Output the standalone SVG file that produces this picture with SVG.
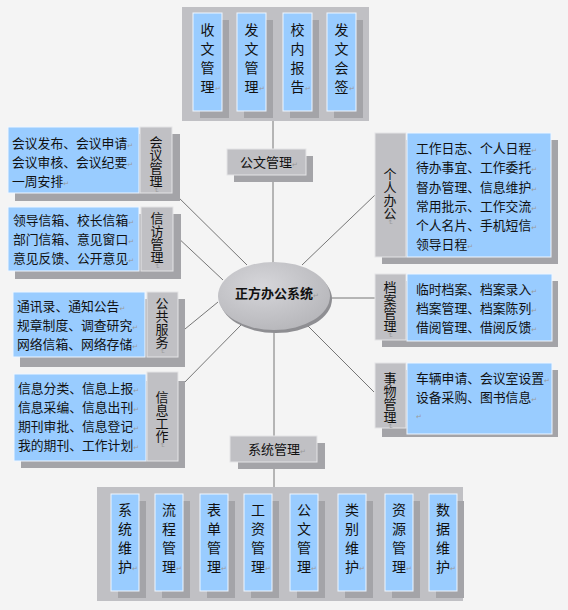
<svg xmlns="http://www.w3.org/2000/svg" width="568" height="610" viewBox="0 0 568 610">
<defs>
<style>
.bg{fill:#f4f4f4}
.panel{fill:#c0c0c4}
.shd{fill:#a4a4a8}
.blue{fill:#99ccff;stroke:#eef6ff;stroke-width:1}
.lbl{fill:#c0c0c4;stroke:#e4e4e6;stroke-width:1}
.t{font-family:"Noto Sans CJK SC","Noto Sans CJK JP",sans-serif;font-size:12.8px;fill:#111}
.v{font-family:"Noto Sans CJK SC","Noto Sans CJK JP",sans-serif;font-size:14px;fill:#111;text-anchor:middle}
.vl{font-family:"Noto Sans CJK SC","Noto Sans CJK JP",sans-serif;font-size:13px;fill:#111;writing-mode:vertical-rl}
.rm{font-family:"DejaVu Sans",sans-serif;font-size:7px;fill:#9a9a9a}
.conn line{stroke:#555;stroke-width:0.8}
</style>
<radialGradient id="eg" cx="40%" cy="35%" r="70%">
<stop offset="0" stop-color="#d6d6da"/>
<stop offset="1" stop-color="#b6b6ba"/>
</radialGradient>
</defs>
<rect class="bg" x="0" y="0" width="568" height="610"/>

<g id="connectors" class="conn">
<line x1="273" y1="121" x2="273" y2="149"/>
<line x1="273" y1="175" x2="273" y2="263"/>
<line x1="173" y1="192" x2="247" y2="265"/>
<line x1="175" y1="235" x2="223" y2="280"/>
<line x1="185" y1="329" x2="218" y2="302"/>
<line x1="180" y1="387" x2="242" y2="324"/>
<line x1="302" y1="265" x2="375" y2="195"/>
<line x1="330" y1="298" x2="375" y2="298"/>
<line x1="307" y1="325" x2="374" y2="392"/>
<line x1="274" y1="330" x2="274" y2="436"/>
<line x1="274" y1="462" x2="274" y2="487"/>
</g>

<g id="top-panel">
<rect class="panel" x="182" y="7" width="187" height="114"/>
<rect class="shd" x="200" y="20" width="29" height="98"/>
<rect class="shd" x="244" y="20" width="29" height="98"/>
<rect class="shd" x="290" y="20" width="29" height="98"/>
<rect class="shd" x="334" y="20" width="29" height="98"/>
<rect class="blue" x="193" y="13" width="29" height="98"/>
<rect class="blue" x="237" y="13" width="29" height="98"/>
<rect class="blue" x="283" y="13" width="29" height="98"/>
<rect class="blue" x="327" y="13" width="29" height="98"/>
<text class="v"><tspan x="207.5" y="35">收</tspan><tspan x="207.5" y="54">文</tspan><tspan x="207.5" y="73">管</tspan><tspan x="207.5" y="92">理</tspan><tspan class="rm" x="218" y="91">↵</tspan></text>
<text class="v"><tspan x="251.5" y="35">发</tspan><tspan x="251.5" y="54">文</tspan><tspan x="251.5" y="73">管</tspan><tspan x="251.5" y="92">理</tspan><tspan class="rm" x="262" y="91">↵</tspan></text>
<text class="v"><tspan x="297.5" y="35">校</tspan><tspan x="297.5" y="54">内</tspan><tspan x="297.5" y="73">报</tspan><tspan x="297.5" y="92">告</tspan><tspan class="rm" x="308" y="91">↵</tspan></text>
<text class="v"><tspan x="341.5" y="35">发</tspan><tspan x="341.5" y="54">文</tspan><tspan x="341.5" y="73">会</tspan><tspan x="341.5" y="92">签</tspan><tspan class="rm" x="352" y="91">↵</tspan></text>
</g>

<g id="gongwen">
<rect class="shd" x="234" y="156" width="79" height="26"/>
<rect class="lbl" x="227" y="149" width="79" height="26"/>
<text class="t" x="240" y="167" style="font-size:13px">公文管理<tspan class="rm">↵</tspan></text>
</g>

<g id="center">
<ellipse cx="276" cy="299" rx="56" ry="34" fill="#8e8e92"/>
<ellipse cx="274" cy="296" rx="56" ry="34" fill="url(#eg)"/>
<text class="t" x="235" y="298" style="font-size:13px;font-weight:bold">正方办公系统<tspan class="rm" style="font-weight:normal">↵</tspan></text>
</g>

<g id="huiyi">
<rect class="shd" x="15" y="134" width="165" height="67"/>
<rect class="blue" x="8" y="127" width="131" height="66"/>
<rect class="lbl" x="140" y="127" width="32" height="66"/>
<text class="t" x="12" y="148">会议发布、会议申请<tspan class="rm">↵</tspan></text>
<text class="t" x="12" y="167">会议审核、会议纪要<tspan class="rm">↵</tspan></text>
<text class="t" x="12" y="186">一周安排<tspan class="rm">↵</tspan></text>
<text class="vl" x="156" y="135.5">会议管理<tspan class="rm">↵</tspan></text>
</g>

<g id="xinfang">
<rect class="shd" x="15" y="214" width="166" height="65"/>
<rect class="blue" x="8" y="207" width="131" height="64"/>
<rect class="lbl" x="141" y="207" width="32" height="64"/>
<text class="t" x="13" y="225">领导信箱、校长信箱<tspan class="rm">↵</tspan></text>
<text class="t" x="13" y="244">部门信箱、意见窗口<tspan class="rm">↵</tspan></text>
<text class="t" x="13" y="263">意见反馈、公开意见<tspan class="rm">↵</tspan></text>
<text class="vl" x="157" y="211.5">信访管理<tspan class="rm">↵</tspan></text>
</g>

<g id="gonggong">
<rect class="shd" x="20" y="299" width="165" height="68"/>
<rect class="blue" x="13" y="292" width="132" height="65"/>
<rect class="lbl" x="147" y="292" width="31" height="65"/>
<text class="t" x="17" y="311">通讯录、通知公告<tspan class="rm">↵</tspan></text>
<text class="t" x="17" y="330">规章制度、调查研究<tspan class="rm">↵</tspan></text>
<text class="t" x="17" y="349">网络信箱、网络存储<tspan class="rm">↵</tspan></text>
<text class="vl" x="162" y="296.5">公共服务<tspan class="rm">↵</tspan></text>
</g>

<g id="xinxi">
<rect class="shd" x="21" y="381" width="164" height="87"/>
<rect class="blue" x="14" y="374" width="132" height="87"/>
<rect class="lbl" x="147" y="372" width="31" height="89"/>
<text class="t" x="18" y="393">信息分类、信息上报<tspan class="rm">↵</tspan></text>
<text class="t" x="18" y="412">信息采编、信息出刊<tspan class="rm">↵</tspan></text>
<text class="t" x="18" y="431">期刊审批、信息登记<tspan class="rm">↵</tspan></text>
<text class="t" x="18" y="450">我的期刊、工作计划<tspan class="rm">↵</tspan></text>
<text class="vl" x="162" y="390.5">信息工作<tspan class="rm">↵</tspan></text>
</g>

<g id="geren">
<rect class="shd" x="382" y="140" width="176" height="124"/>
<rect class="lbl" x="375" y="133" width="31" height="124"/>
<rect class="blue" x="407" y="133" width="144" height="124"/>
<text class="t" x="416" y="153">工作日志、个人日程<tspan class="rm">↵</tspan></text>
<text class="t" x="416" y="172">待办事宜、工作委托<tspan class="rm">↵</tspan></text>
<text class="t" x="416" y="192">督办管理、信息维护<tspan class="rm">↵</tspan></text>
<text class="t" x="416" y="211">常用批示、工作交流<tspan class="rm">↵</tspan></text>
<text class="t" x="416" y="230">个人名片、手机短信<tspan class="rm">↵</tspan></text>
<text class="t" x="416" y="249">领导日程<tspan class="rm">↵</tspan></text>
<text class="vl" x="390" y="167.5">个人办公<tspan class="rm">↵</tspan></text>
</g>

<g id="dangan">
<rect class="shd" x="382" y="281" width="176" height="66"/>
<rect class="lbl" x="375" y="274" width="31" height="66"/>
<rect class="blue" x="407" y="274" width="145" height="67"/>
<text class="t" x="416" y="294">临时档案、档案录入<tspan class="rm">↵</tspan></text>
<text class="t" x="416" y="313">档案管理、档案陈列<tspan class="rm">↵</tspan></text>
<text class="t" x="416" y="332">借阅管理、借阅反馈<tspan class="rm">↵</tspan></text>
<text class="vl" x="390" y="280.5">档案管理<tspan class="rm">↵</tspan></text>
</g>

<g id="shiwu">
<rect class="shd" x="382" y="370" width="176" height="67"/>
<rect class="lbl" x="375" y="363" width="31" height="65"/>
<rect class="blue" x="407" y="363" width="145" height="71"/>
<text class="t" x="416" y="383">车辆申请、会议室设置<tspan class="rm">↵</tspan></text>
<text class="t" x="416" y="402">设备采购、图书信息<tspan class="rm">↵</tspan><tspan class="rm" x="416" y="419">↵</tspan></text>
<text class="vl" x="390" y="371.5">事物管理<tspan class="rm">↵</tspan></text>
</g>

<g id="xitong">
<rect class="shd" x="238" y="443" width="87" height="26"/>
<rect class="lbl" x="230" y="436" width="87" height="26"/>
<text class="t" x="248" y="454" style="font-size:13px">系统管理<tspan class="rm">↵</tspan></text>
</g>

<g id="bottom-panel">
<rect class="panel" x="97" y="487" width="366" height="114"/>
<rect class="shd" x="118" y="501" width="28" height="97"/>
<rect class="shd" x="162" y="501" width="28" height="97"/>
<rect class="shd" x="207" y="501" width="28" height="97"/>
<rect class="shd" x="251" y="501" width="28" height="97"/>
<rect class="shd" x="297" y="501" width="28" height="97"/>
<rect class="shd" x="345" y="501" width="28" height="97"/>
<rect class="shd" x="392" y="501" width="28" height="97"/>
<rect class="shd" x="436" y="501" width="28" height="97"/>
<rect class="blue" x="111" y="494" width="28" height="97"/>
<rect class="blue" x="155" y="494" width="28" height="97"/>
<rect class="blue" x="200" y="494" width="28" height="97"/>
<rect class="blue" x="244" y="494" width="28" height="97"/>
<rect class="blue" x="290" y="494" width="28" height="97"/>
<rect class="blue" x="338" y="494" width="28" height="97"/>
<rect class="blue" x="385" y="494" width="28" height="97"/>
<rect class="blue" x="429" y="494" width="28" height="97"/>
<text class="v"><tspan x="125" y="515">系</tspan><tspan x="125" y="534">统</tspan><tspan x="125" y="553">维</tspan><tspan x="125" y="572">护</tspan><tspan class="rm" x="135" y="571">↵</tspan></text>
<text class="v"><tspan x="169" y="515">流</tspan><tspan x="169" y="534">程</tspan><tspan x="169" y="553">管</tspan><tspan x="169" y="572">理</tspan><tspan class="rm" x="179" y="571">↵</tspan></text>
<text class="v"><tspan x="214" y="515">表</tspan><tspan x="214" y="534">单</tspan><tspan x="214" y="553">管</tspan><tspan x="214" y="572">理</tspan><tspan class="rm" x="224" y="571">↵</tspan></text>
<text class="v"><tspan x="258" y="515">工</tspan><tspan x="258" y="534">资</tspan><tspan x="258" y="553">管</tspan><tspan x="258" y="572">理</tspan><tspan class="rm" x="268" y="571">↵</tspan></text>
<text class="v"><tspan x="304" y="515">公</tspan><tspan x="304" y="534">文</tspan><tspan x="304" y="553">管</tspan><tspan x="304" y="572">理</tspan><tspan class="rm" x="314" y="571">↵</tspan></text>
<text class="v"><tspan x="352" y="515">类</tspan><tspan x="352" y="534">别</tspan><tspan x="352" y="553">维</tspan><tspan x="352" y="572">护</tspan><tspan class="rm" x="362" y="571">↵</tspan></text>
<text class="v"><tspan x="399" y="515">资</tspan><tspan x="399" y="534">源</tspan><tspan x="399" y="553">管</tspan><tspan x="399" y="572">理</tspan><tspan class="rm" x="409" y="571">↵</tspan></text>
<text class="v"><tspan x="443" y="515">数</tspan><tspan x="443" y="534">据</tspan><tspan x="443" y="553">维</tspan><tspan x="443" y="572">护</tspan><tspan class="rm" x="453" y="571">↵</tspan></text>
</g>
</svg>
